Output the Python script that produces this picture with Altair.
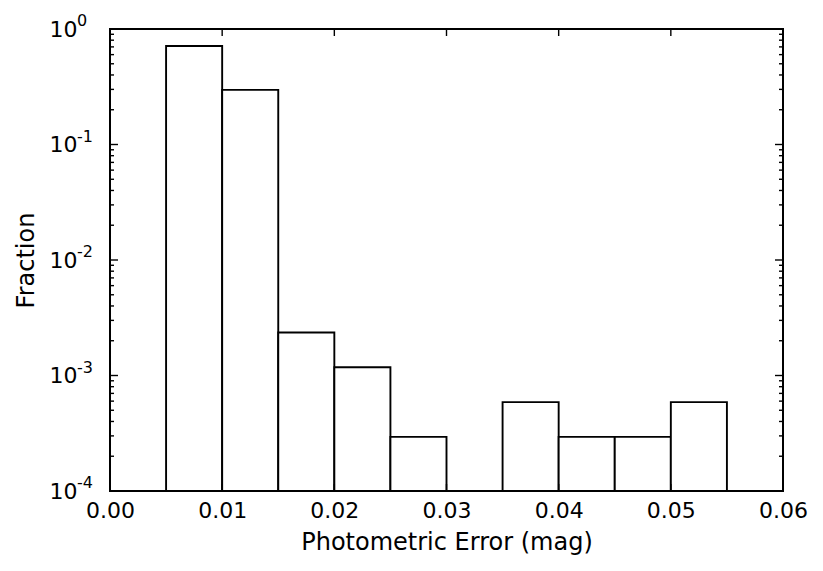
import altair as alt
import pandas as pd

# Histogram bins (photometric error, mag) and fraction per bin
bin_left = [0.005, 0.010, 0.015, 0.020, 0.025, 0.035, 0.040, 0.045, 0.050]
bin_right = [0.010, 0.015, 0.020, 0.025, 0.030, 0.040, 0.045, 0.050, 0.055]
fraction = [0.713, 0.297, 0.00236, 0.00118, 0.000294, 0.000588, 0.000294, 0.000294, 0.000588]

# Axis ticks / labels
x_tick_values = [0.00, 0.01, 0.02, 0.03, 0.04, 0.05, 0.06]
y_tick_values = [1.0, 0.1, 0.01, 0.001, 0.0001]
y_tick_exponents = ["0", "-1", "-2", "-3", "-4"]
y_minor_values = [m * 10.0 ** k for k in range(-4, 0) for m in range(2, 10)]

W, H = 673, 462
FONT = "DejaVu Sans"

bars_df = pd.DataFrame({"x0": bin_left, "x1": bin_right, "f": fraction})
xt_df = pd.DataFrame({"v": x_tick_values})
yt_df = pd.DataFrame({"v": y_tick_values, "e": y_tick_exponents})
ym_df = pd.DataFrame({"v": y_minor_values})

xs = alt.Scale(domain=[0, 0.06], nice=False, zero=False)
ys = alt.Scale(type="log", domain=[1e-4, 1], nice=False)

xaxis = alt.Axis(values=x_tick_values, format=".2f", ticks=False, domain=False,
                 grid=False, labelFontSize=22, labelFont=FONT, labelColor="black",
                 labelPadding=9, title="Photometric Error (mag)",
                 titleFontSize=24, titleFont=FONT, titleFontWeight="normal",
                 titleColor="black", titlePadding=9, labelFlush=False)
yaxis = alt.Axis(values=y_tick_values, labelExpr="'10'", ticks=False, domain=False,
                 grid=False, labelFontSize=22, labelFont=FONT, labelColor="black",
                 labelPadding=33, title="Fraction", titleFontSize=24,
                 titleFont=FONT, titleFontWeight="normal", titleColor="black",
                 titlePadding=11, labelFlush=False)

bars = alt.Chart(bars_df).mark_rect(fill="white", stroke="black", strokeWidth=1.9).encode(
    x=alt.X("x0:Q", scale=xs, axis=xaxis),
    x2="x1:Q",
    y=alt.Y("f:Q", scale=ys, axis=yaxis),
    y2=alt.value(H),
)

rule = dict(color="black", strokeWidth=1.4)

x_top = alt.Chart(xt_df).mark_rule(**rule).encode(
    x=alt.X("v:Q", scale=xs, axis=xaxis), y=alt.value(0), y2=alt.value(7))
x_bot = alt.Chart(xt_df).mark_rule(**rule).encode(
    x=alt.X("v:Q", scale=xs, axis=xaxis), y=alt.value(H), y2=alt.value(H - 7))

y_left = alt.Chart(yt_df).mark_rule(**rule).encode(
    y=alt.Y("v:Q", scale=ys, axis=yaxis), x=alt.value(0), x2=alt.value(8))
y_right = alt.Chart(yt_df).mark_rule(**rule).encode(
    y=alt.Y("v:Q", scale=ys, axis=yaxis), x=alt.value(W), x2=alt.value(W - 8))
ym_left = alt.Chart(ym_df).mark_rule(**rule).encode(
    y=alt.Y("v:Q", scale=ys, axis=yaxis), x=alt.value(0), x2=alt.value(4))
ym_right = alt.Chart(ym_df).mark_rule(**rule).encode(
    y=alt.Y("v:Q", scale=ys, axis=yaxis), x=alt.value(W), x2=alt.value(W - 4))

sup = alt.Chart(yt_df).mark_text(align="left", baseline="alphabetic", fontSize=16,
                                 font=FONT, color="black", dy=-3).encode(
    x=alt.value(-33), y=alt.Y("v:Q", scale=ys, axis=yaxis), text="e:N")

chart = alt.layer(bars, x_top, x_bot, y_left, y_right, ym_left, ym_right, sup).properties(
    width=W, height=H,
    background="white",
    autosize=alt.AutoSizeParams(type="none"),
    padding={"left": 102, "top": 21, "right": 32, "bottom": 72},
).configure_view(stroke="black", strokeWidth=2)

chart.save("out.html", embed_options={"renderer": "svg", "actions": False})
